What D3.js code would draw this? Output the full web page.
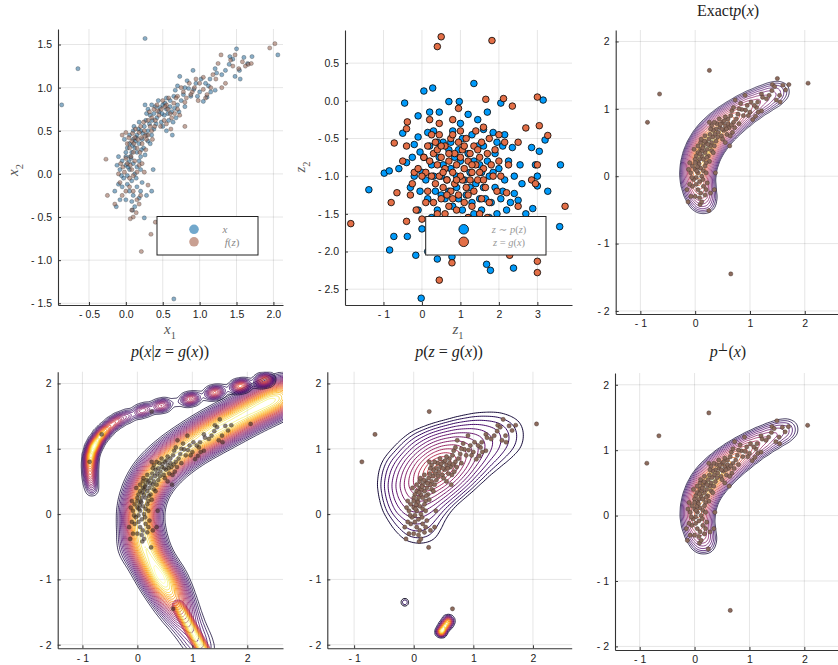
<!DOCTYPE html>
<html>
<head>
<meta charset="utf-8">
<script src="https://cdn.jsdelivr.net/npm/d3@7"></script>
<style>
body { margin: 0; background: #fff; }
</style>
</head>
<body>
<svg id="fig" width="838" height="665"></svg>
<script>
// ---------- data ----------

// samples x (blue in panel 1, brown dots in panels 3-6)
var xPts = [
  [-0.87,0.80],[-0.65,1.22],[0.26,1.57],[0.65,-1.45],[2.06,1.38],[0.35,-0.20],[0.37,0.05],[0.25,-0.51],[0.09,-0.42],[-0.13,-0.38],[0.63,0.45],
  [1.50,1.45],[1.71,1.36],[1.41,1.36],[1.54,1.20],[1.48,1.13],[1.55,1.10],[1.40,1.27],[1.21,1.22],[1.23,1.17],[1.14,1.10],[1.45,1.33],[1.60,1.35],[1.35,1.20],[1.30,1.15],[1.65,1.28],
  [1.21,0.97],[1.05,0.84],[1.10,0.89],[0.91,1.20],[0.73,1.13],[0.85,0.99],[0.67,0.97],[0.95,1.05],[1.00,0.95],[0.88,0.90],[1.02,1.10],[0.80,1.00],[0.92,0.98],[1.12,1.02],[0.78,0.92],[1.08,1.05],[0.70,1.02],[0.97,0.90],[1.15,0.95],[0.83,1.08],
  [0.50,0.80],[0.55,0.75],[0.45,0.72],[0.60,0.85],[0.40,0.78],[0.35,0.80],[0.52,0.68],[0.62,0.72],[0.70,0.80],[0.48,0.60],[0.58,0.62],[0.42,0.65],[0.38,0.70],[0.65,0.90],[0.30,0.75],[0.55,0.88],[0.72,0.72],[0.68,0.65],[0.44,0.85],[0.33,0.68],[0.50,0.55],[0.60,0.78],[0.46,0.77],[0.53,0.82],[0.75,0.85],[0.36,0.62],[0.57,0.70],[0.64,0.60],[0.28,0.70],[0.41,0.58],[0.49,0.70],[0.66,0.76],[0.26,0.80],[0.55,0.50],[0.80,0.78],
  [0.20,0.50],[0.15,0.45],[0.25,0.55],[0.10,0.40],[0.30,0.50],[0.18,0.35],[0.05,0.35],[0.22,0.40],[0.12,0.30],[0.28,0.45],[0.08,0.25],[0.15,0.25],[0.32,0.58],[0.02,0.30],[0.24,0.30],[0.35,0.45],[0.10,0.50],[0.18,0.60],[0.05,0.45],[0.27,0.62],[0.13,0.38],[0.21,0.28],[0.00,0.25],[0.30,0.38],[0.17,0.52],[0.09,0.33],[0.38,0.52],[0.23,0.47],[0.06,0.20],[0.14,0.42],[0.33,0.35],[0.26,0.22],[-0.02,0.40],[0.11,0.55],[0.20,0.20],
  [0.00,0.10],[0.05,0.05],[-0.05,0.15],[0.10,0.12],[0.02,-0.02],[-0.08,0.05],[0.12,0.00],[0.07,0.18],[-0.03,-0.05],[0.15,0.08],[0.04,0.14],[-0.10,0.20],[0.18,0.15],[0.08,-0.08],[0.00,0.20],[0.20,0.05],[-0.12,0.10],[0.14,-0.05],[0.03,0.08],[-0.06,-0.02],
  [0.05,-0.20],[0.10,-0.25],[-0.05,-0.15],[0.15,-0.15],[0.00,-0.30],[-0.10,-0.12],[0.20,-0.20],[0.08,-0.32],[-0.15,-0.20],[0.12,-0.38],[0.02,-0.12],[0.18,-0.28],[0.28,-0.25],[-0.08,-0.30],[0.22,-0.10]
];

// samples f(z) (brown in panel 1)
var fzPts = [
  [1.62,1.25],[1.66,1.27],[1.70,1.28],[1.58,1.30],[1.95,1.46],[2.02,1.51],[1.48,1.38],[1.29,1.38],[1.42,1.32],[1.53,1.22],[1.22,1.10],[1.35,1.05],[1.30,1.00],[1.18,1.15],[1.45,1.25],[1.25,1.28],
  [1.00,1.05],[0.95,1.10],[1.05,0.98],[0.90,0.95],[0.82,0.88],[0.75,1.00],[0.86,1.05],[1.10,0.92],[0.98,0.85],[0.70,0.90],[0.78,0.95],[1.15,1.00],[0.93,1.00],[0.80,0.83],[1.05,1.12],[0.88,0.92],[1.08,0.88],
  [0.55,0.80],[0.48,0.75],[0.60,0.70],[0.42,0.80],[0.65,0.82],[0.38,0.75],[0.52,0.62],[0.70,0.75],[0.45,0.68],[0.58,0.88],[0.32,0.72],[0.62,0.65],[0.50,0.85],[0.40,0.62],[0.68,0.88],[0.35,0.65],[0.55,0.58],[0.47,0.55],[0.73,0.68],[0.80,0.55],[0.61,0.52],[0.53,0.78],[0.43,0.73],[0.66,0.70],[0.30,0.62],[0.57,0.75],[0.39,0.55],
  [0.18,0.48],[0.12,0.42],[0.25,0.50],[0.08,0.38],[0.22,0.35],[0.15,0.30],[0.30,0.45],[0.05,0.30],[0.20,0.55],[0.10,0.25],[0.28,0.40],[0.02,0.35],[0.16,0.40],[0.35,0.50],[0.24,0.60],[-0.05,0.45],[0.00,0.48],[0.13,0.52],[0.27,0.28],[0.07,0.20],[0.19,0.25],[0.33,0.55],[0.11,0.35],[0.26,0.44],[0.04,0.42],[0.36,0.40],[0.21,0.42],[0.09,0.47],
  [0.02,0.12],[0.08,0.05],[-0.04,0.08],[0.12,0.15],[0.05,-0.05],[-0.10,0.00],[0.15,0.02],[0.00,0.18],[0.10,-0.02],[-0.07,0.12],[0.18,0.10],[0.06,0.10],[-0.02,0.02],[-0.27,0.17],[0.22,0.12],[0.25,0.02],
  [0.05,-0.15],[-0.05,-0.25],[0.10,-0.20],[-0.15,-0.35],[0.15,-0.30],[0.00,-0.20],[-0.25,-0.25],[0.08,-0.42],[0.10,-0.50],[0.06,-0.52],[0.20,-0.25],[0.18,-0.35],[0.30,-0.13],[0.40,-0.56],[0.34,-0.70],[0.21,-0.90],[-0.08,-0.10],[0.14,-0.45]
];

// z ~ p(z)
var zpPts = [
  [1.35,0.23],[0.05,0.13],[0.28,0.17],[-0.45,-0.03],[0.70,-0.01],[0.97,-0.01],[2.05,-0.03],[3.15,0.01],[1.70,-0.15],[-1.38,-1.18],[-0.98,-0.96],[-0.85,-0.93],[-0.84,-1.98],[-0.73,-1.80],[-0.38,-1.80],[-0.16,-2.05],[-0.02,-2.62],[0.00,-1.70],[0.40,-2.10],[0.78,-2.07],[1.68,-2.17],[1.78,-2.25],[2.38,-2.22],[3.58,-1.67],[3.60,-0.85],[3.27,-1.20],[3.05,-0.67],[3.20,-0.52],[2.85,-0.62],[3.00,-1.13],[2.88,-1.43],[2.40,-1.23],[2.50,-1.32],[-0.40,-0.82],[-0.50,-0.43],[-0.10,-0.48],[-0.10,-0.20],[-0.05,-0.68],[0.20,-0.15],[0.45,-0.15],[1.20,-0.18],[1.45,-0.25],[2.15,-0.45],[2.55,-0.85],[2.35,-0.62],[2.10,-0.60],[1.85,-0.42],[1.60,-0.38],[-0.60,-0.90],[-0.30,-1.15],[-0.20,-0.58],[2.95,-0.85],[3.00,-1.00],[2.70,-1.50],[2.20,-1.45],[2.30,-1.60],[1.95,-1.50],[1.20,-1.55],[0.60,-1.60],[0.30,-1.75],[-0.10,-1.45],[0.15,-2.00],[1.00,-1.85],[1.45,-1.75],
  [0.30,-0.40],[0.55,-0.55],[0.80,-0.40],[1.05,-0.50],[1.30,-0.45],[1.60,-0.60],[1.90,-0.70],[2.00,-0.90],[1.75,-1.00],[1.50,-0.85],[1.25,-0.95],[1.00,-0.80],[0.75,-0.90],[0.50,-1.00],[0.25,-0.85],[0.10,-1.05],[0.35,-1.20],[0.60,-1.30],[0.90,-1.15],[1.15,-1.25],[1.40,-1.10],[1.65,-1.30],[1.90,-1.15],[2.15,-1.05],[2.25,-0.80],[0.05,-0.75],[0.20,-0.60],[0.45,-0.75],[0.70,-0.65],[0.95,-0.65],[1.20,-0.70],[1.45,-0.60],[1.70,-0.80],[1.95,-0.55],[0.15,-1.30],[0.40,-1.45],[0.80,-1.40],[1.05,-1.45],[1.30,-1.35],[1.55,-1.45],[1.80,-1.35],[2.05,-1.30],[0.65,-1.05],[0.90,-1.00],[1.10,-1.05],[1.35,-0.80],[0.85,-0.75],[0.55,-0.85],[0.30,-1.00],[1.60,-1.15],[1.85,-0.95],[2.10,-1.20],[0.00,-0.95],[-0.20,-1.00],[-0.25,-0.75],[0.40,-0.55],[0.15,-0.42],[1.00,-0.30],[1.15,-1.60],[1.75,-1.55],[2.40,-1.00],[2.60,-1.10],[0.70,-1.20],[0.95,-1.30],[1.25,-1.15],[1.50,-1.30],[0.25,-1.55],[0.50,-1.25],[-0.05,-1.20],[1.35,-1.50],[0.75,-0.55],[1.55,-0.95],[2.30,-1.35]
];

// z = g(x)
var zgPts = [
  [0.40,0.72],[0.50,0.85],[1.82,0.80],[3.00,0.05],[3.05,-0.33],[3.27,-0.46],[2.70,-0.36],[2.35,-0.07],[2.12,0.03],[1.66,0.02],[0.95,-0.10],[-1.85,-1.63],[-0.80,-1.35],[-0.65,-1.22],[-0.72,-0.56],[-0.40,-0.60],[-0.38,-0.28],[-0.40,-0.37],[-0.40,-1.60],[0.45,-2.38],[0.78,-2.15],[2.28,-2.05],[3.00,-2.13],[3.00,-2.28],[3.72,-1.40],[2.85,-1.65],[3.00,-0.85],[2.85,-1.05],[2.95,-1.10],[-0.50,-0.80],[0.00,-1.57],[-0.15,-1.45],[0.45,-0.30],[0.20,-0.25],[0.80,-0.25],[1.60,-0.35],[2.50,-0.55],[2.20,-1.22],[2.50,-1.40],[-0.30,-1.25],[-0.20,-0.95],[0.10,-1.35],
  [0.20,-0.80],[0.30,-0.70],[0.40,-0.85],[0.50,-0.75],[0.60,-0.90],[0.70,-0.80],[0.80,-0.95],[0.90,-0.85],[1.00,-0.75],[1.10,-0.90],[1.20,-0.80],[1.30,-0.95],[1.40,-0.85],[1.50,-0.75],[1.60,-0.90],[1.70,-0.70],[1.80,-0.85],[1.90,-0.65],[2.00,-0.80],[0.25,-1.00],[0.35,-1.10],[0.45,-1.00],[0.55,-1.15],[0.65,-1.05],[0.75,-1.20],[0.85,-1.10],[0.95,-1.25],[1.05,-1.05],[1.15,-1.15],[1.25,-1.05],[1.35,-1.20],[1.45,-1.05],[1.55,-1.30],[1.65,-1.15],[1.75,-1.35],[0.10,-0.95],[0.00,-1.00],[-0.10,-0.90],[0.05,-0.75],[0.15,-1.20],[0.60,-0.60],[0.75,-0.50],[0.95,-0.55],[1.15,-0.50],[1.35,-0.60],[1.55,-0.55],[0.35,-0.55],[0.85,-0.70],[1.05,-0.65],[1.25,-0.70],[1.45,-0.65],[0.50,-1.30],[0.70,-1.40],[0.90,-1.45],[1.10,-1.35],[1.30,-1.40],[1.50,-1.50],[0.30,-1.35],[0.40,-1.50],[0.65,-1.25],[1.00,-1.00],[1.20,-1.25],[0.80,-1.30],[0.55,-0.95],[1.60,-1.05],[1.85,-1.00],[2.05,-1.00],[2.15,-0.55],[2.25,-0.85],[0.15,-0.60],[0.45,-0.45],[1.75,-0.50],[2.00,-0.45],[1.95,-1.20],[1.40,-0.40],[0.95,-1.60],[1.20,-1.55],[0.60,-1.50],[0.25,-0.45],[0.80,-0.45],[1.00,-0.40],[1.70,-1.55],[-0.25,-1.10],[0.40,-0.65],[0.70,-0.70],[0.90,-1.05],[1.10,-0.60],[1.30,-0.85],[1.50,-0.95],[0.50,-0.60]
];

// density ridges [x, y, weight]
var exactRidge = [
  [0.15,-0.38,0.35],[0.08,-0.22,0.55],[0.04,-0.05,0.75],[0.05,0.12,0.9],[0.10,0.28,1.0],[0.18,0.42,1.0],[0.28,0.55,0.95],[0.40,0.66,0.85],
  [0.54,0.77,0.75],[0.70,0.87,0.62],[0.87,0.97,0.5],[1.05,1.06,0.4],[1.24,1.14,0.3],[1.42,1.21,0.22],[1.58,1.27,0.15]
];
var perpRidge = [
  [0.17,-0.42,0.3],[0.10,-0.27,0.45],[0.05,-0.10,0.6],[0.05,0.07,0.75],[0.09,0.24,0.88],[0.17,0.39,0.97],[0.27,0.52,1.0],[0.39,0.63,1.0],
  [0.53,0.74,0.92],[0.69,0.85,0.8],[0.86,0.95,0.66],[1.04,1.05,0.52],[1.23,1.14,0.4],[1.42,1.22,0.3],[1.60,1.29,0.22],[1.76,1.33,0.14]
];
var condBand = [
  [1.22,-2.15,0.25],[1.12,-2.00,0.25],[1.02,-1.85,0.27],[0.92,-1.70,0.3],[0.82,-1.55,0.4],[0.72,-1.40,0.6],[0.62,-1.25,0.85],
  [0.50,-1.08,1.0],[0.38,-0.92,1.0],[0.27,-0.76,1.0],[0.18,-0.58,1.0],[0.11,-0.40,0.95],[0.06,-0.22,0.9],[0.04,-0.04,0.9],
  [0.06,0.14,0.9],[0.12,0.32,0.9],[0.21,0.48,0.9],[0.33,0.62,0.9],[0.47,0.74,0.9],[0.63,0.86,0.9],[0.80,0.97,0.9],[0.98,1.07,0.9],
  [1.17,1.17,0.95],[1.36,1.26,1.0],[1.56,1.35,1.0],[1.76,1.44,1.0],[1.96,1.53,1.0],[2.16,1.62,1.0],[2.36,1.70,1.0],[2.56,1.78,1.0],[2.76,1.86,1.0],
  [-0.22,-0.55,0.2],[0.62,-0.98,0.2]
];
var condTail = [[0.74,-1.40,0.8],[0.82,-1.52,1],[0.90,-1.64,1],[0.98,-1.76,1],[1.06,-1.88,1],[1.14,-2.00,1],[1.22,-2.12,1]];
var condArc = [
  [-0.83,0.38,0.25],[-0.85,0.50,0.45],[-0.86,0.62,0.65],[-0.86,0.75,0.85],[-0.85,0.88,1.0],[-0.81,1.00,1.0],[-0.75,1.10,0.95],
  [-0.67,1.20,0.85],[-0.58,1.28,0.7],[-0.48,1.36,0.55],[-0.38,1.42,0.4],
  [-0.30,1.46,0.3],[-0.18,1.50,0.3],[-0.06,1.53,0.1],[0.04,1.57,0.35],[0.16,1.60,0.35],[0.27,1.62,0.1],[0.38,1.65,0.4],[0.50,1.67,0.4],
  [0.70,1.71,0.1],[0.90,1.75,0.45],[1.02,1.77,0.45],[1.18,1.81,0.1],[1.35,1.85,0.5],[1.47,1.87,0.5],[1.64,1.91,0.1],
  [1.81,1.95,0.55],[1.93,1.97,0.55],[2.08,2.00,0.1],[2.25,2.04,0.55],[2.37,2.06,0.55]
];
var zgBlob = [
  [0.10,-0.15,0.3],[-0.05,0.25,0.5],[0.12,0.45,0.75],[0.30,0.62,0.95],[0.48,0.75,1.0],[0.68,0.88,0.8],[0.92,1.02,0.5],[1.20,1.12,0.3],
  [1.50,1.20,0.15],[1.68,1.24,0.08],[-0.22,0.62,0.25],[0.15,0.98,0.2]
];
var zgDiamond = [[-0.15,-1.35,1]];
var zgPatch = [[0.46,-1.80,1],[0.52,-1.72,1],[0.58,-1.64,1]];

// ticks
var p1XTicks = [-0.5, 0, 0.5, 1, 1.5, 2];
var p1XLabels = ["- 0.5", "0.0", "0.5", "1.0", "1.5", "2.0"];
var p1YTicks = [-1.5, -1, -0.5, 0, 0.5, 1, 1.5];
var p1YLabels = ["- 1.5", "- 1.0", "- 0.5", "0.0", "0.5", "1.0", "1.5"];
var p2XTicks = [-1, 0, 1, 2, 3];
var p2XLabels = ["- 1", "0", "1", "2", "3"];
var p2YTicks = [-2.5, -2, -1.5, -1, -0.5, 0, 0.5];
var p2YLabels = ["- 2.5", "- 2.0", "- 1.5", "- 1.0", "- 0.5", "0.0", "0.5"];
var cXTicks = [-1, 0, 1, 2];
var cXLabels = ["- 1", "0", "1", "2"];
var cYTicks = [-2, -1, 0, 1, 2];
var cYLabels = ["- 2", "- 1", "0", "1", "2"];

// ---------- drawing ----------
var svg = d3.select("#fig");
var serif = "'Liberation Serif','DejaVu Serif',serif";
var sans = "'Liberation Sans',Arial,sans-serif";
var geo = d3.geoPath();

function makePanel(id, c) {
  var x = d3.scaleLinear().domain(c.dx).range([c.l, c.r]);
  var y = d3.scaleLinear().domain(c.dy).range([c.b, c.t]);
  svg.append("clipPath").attr("id", "clip-" + id).append("rect")
    .attr("x", c.l).attr("y", c.t).attr("width", c.r - c.l).attr("height", c.b - c.t);
  var grid = svg.append("g");
  var body = svg.append("g").attr("clip-path", "url(#clip-" + id + ")");
  var axes = svg.append("g");
  return {x: x, y: y, c: c, grid: grid, body: body, axes: axes};
}

function drawAxes(p, xt, xl, yt, yl) {
  var c = p.c;
  p.grid.selectAll(".gx").data(xt).join("line")
    .attr("x1", function(d) { return p.x(d); }).attr("x2", function(d) { return p.x(d); })
    .attr("y1", c.t).attr("y2", c.b)
    .attr("stroke", "#000").attr("stroke-opacity", 0.1).attr("stroke-width", 1);
  p.grid.selectAll(".gy").data(yt).join("line")
    .attr("y1", function(d) { return p.y(d); }).attr("y2", function(d) { return p.y(d); })
    .attr("x1", c.l).attr("x2", c.r)
    .attr("stroke", "#000").attr("stroke-opacity", 0.1).attr("stroke-width", 1);

  var ax = p.axes.append("g").attr("transform", "translate(0," + c.b + ")")
    .call(d3.axisBottom(p.x).tickValues(xt).tickFormat(function(d, i) { return xl[i]; })
      .tickSizeInner(-3).tickSizeOuter(0).tickPadding(6));
  var ay = p.axes.append("g").attr("transform", "translate(" + c.l + ",0)")
    .call(d3.axisLeft(p.y).tickValues(yt).tickFormat(function(d, i) { return yl[i]; })
      .tickSizeInner(-3).tickSizeOuter(0).tickPadding(6));
  [ax, ay].forEach(function(a) {
    a.select(".domain").attr("stroke", "#333").attr("stroke-width", 1.1);
    a.selectAll(".tick line").attr("stroke", "#333");
    a.selectAll(".tick text").attr("font-family", sans).attr("font-size", "10.5px").attr("fill", "#222");
  });
}

function mathText(g, x, y, parts, size, color, anchor) {
  var t = g.append("text").attr("x", x).attr("y", y)
    .attr("text-anchor", anchor || "middle").attr("font-family", serif)
    .attr("font-size", size).attr("fill", color);
  var shift = 0;
  parts.forEach(function(pt) {
    var s = t.append("tspan").text(pt[0]);
    var want = 0;
    if (pt[1].indexOf("i") >= 0) s.attr("font-style", "italic");
    if (pt[1].indexOf("sub") >= 0) { s.attr("font-size", size * 0.7); want = size * 0.3; }
    if (pt[1].indexOf("sup") >= 0) { s.attr("font-size", size * 0.7); want = -size * 0.4; }
    if (want !== shift) { s.attr("dy", want - shift); shift = want; }
  });
  return t;
}

function densityLevels(p, pts, bw, cell) {
  var pad = 40, c = p.c;
  var dens = d3.contourDensity()
    .x(function(d) { return p.x(d[0]) - c.l + pad; })
    .y(function(d) { return p.y(d[1]) - c.t + pad; })
    .weight(function(d) { return d.length > 2 ? d[2] : 1; })
    .size([c.r - c.l + 2 * pad, c.b - c.t + 2 * pad])
    .cellSize(cell).bandwidth(bw);
  var res = {pad: pad};
  if (dens.contours) {
    var cf = dens.contours(pts);
    res.max = cf.max;
    res.at = function(v) { return cf(v); };
  } else {
    var all = dens.thresholds(300)(pts).filter(function(g) { return g.coordinates.length; });
    res.max = all[all.length - 1].value;
    res.at = function(v) { return dens.thresholds([v])(pts)[0]; };
  }
  return res;
}

function drawContours(p, pts, bw, cell, fracs, tcol, width) {
  var d = densityLevels(p, pts, bw, cell);
  var g = p.body.append("g").attr("transform", "translate(" + (p.c.l - d.pad) + "," + (p.c.t - d.pad) + ")");
  g.selectAll("path").data(fracs).join("path")
    .attr("d", function(f) { return geo(d.at(f * d.max)); })
    .attr("fill", "none")
    .attr("stroke", function(f, i) { return d3.interpolateInferno(tcol[i]); })
    .attr("stroke-width", width)
    .attr("stroke-linejoin", "round");
}

// contour level helpers
function levels(n) { return d3.range(n).map(function(i) { return (i + 1) / (n + 1); }); }
function span(n, lo, hi) { return d3.range(n).map(function(i) { return lo + (hi - lo) * i / (n - 1); }); }
function ringLevels(n, k) { return d3.range(n).map(function(i) { var s = 1 - (i + 1) / (n + 1); return Math.exp(-k * s * s); }); }

function dots(p, pts, r, fill, fo, stroke, so, sw) {
  p.body.append("g").selectAll("circle").data(pts).join("circle")
    .attr("cx", function(d) { return p.x(d[0]); })
    .attr("cy", function(d) { return p.y(d[1]); })
    .attr("r", r).attr("fill", fill).attr("fill-opacity", fo)
    .attr("stroke", stroke).attr("stroke-opacity", so).attr("stroke-width", sw);
}

// ---- panel 1: x and f(z)
var P1 = makePanel("p1", {l: 58, r: 283, t: 29, b: 305, dx: [-0.92, 2.13], dy: [-1.52, 1.68]});
drawAxes(P1, p1XTicks, p1XLabels, p1YTicks, p1YLabels);
dots(P1, xPts, 2.1, "#3a76a0", 0.6, "#000", 0.45, 0.5);
dots(P1, fzPts, 2.1, "#9a6a5a", 0.6, "#000", 0.45, 0.5);
mathText(svg, 170, 334, [["x", "i"], ["1", "sub"]], 15, "#555");
mathText(svg.append("g").attr("transform", "translate(18,170) rotate(-90)"), 0, 0, [["x", "i"], ["2", "sub"]], 15, "#555");
var lg1 = svg.append("g");
lg1.append("rect").attr("x", 157).attr("y", 216.5).attr("width", 101).attr("height", 38.5)
  .attr("fill", "#fff").attr("stroke", "#222").attr("stroke-width", 1);
lg1.append("circle").attr("cx", 194).attr("cy", 229.3).attr("r", 4.8).attr("fill", "#72a8cc");
lg1.append("circle").attr("cx", 194).attr("cy", 241.8).attr("r", 4.8).attr("fill", "#c9a092");
mathText(lg1, 225, 233, [["x", "i"]], 11, "#888");
mathText(lg1, 232, 245.5, [["f", "i"], ["(", ""], ["z", "i"], [")", ""]], 11, "#888");

// ---- panel 2: latent samples
var P2 = makePanel("p2", {l: 345, r: 572, t: 30, b: 305, dx: [-2.0, 3.9], dy: [-2.71, 0.94]});
drawAxes(P2, p2XTicks, p2XLabels, p2YTicks, p2YLabels);
dots(P2, zpPts, 3.3, "#009AFA", 1, "#000", 1, 0.8);
dots(P2, zgPts, 3.3, "#E36F47", 1, "#000", 1, 0.8);
mathText(svg, 458, 334, [["z", "i"], ["1", "sub"]], 15, "#555");
mathText(svg.append("g").attr("transform", "translate(305,167) rotate(-90)"), 0, 0, [["z", "i"], ["2", "sub"]], 15, "#555");
var lg2 = svg.append("g");
lg2.append("rect").attr("x", 425.7).attr("y", 216.5).attr("width", 120.3).attr("height", 38.5)
  .attr("fill", "#fff").attr("stroke", "#222").attr("stroke-width", 1);
lg2.append("circle").attr("cx", 463.7).attr("cy", 229.3).attr("r", 4.8).attr("fill", "#009AFA").attr("stroke", "#000").attr("stroke-width", 0.8);
lg2.append("circle").attr("cx", 463.7).attr("cy", 241.8).attr("r", 4.8).attr("fill", "#E36F47").attr("stroke", "#000").attr("stroke-width", 0.8);
mathText(lg2, 509, 233, [["z", "i"], [" ∼ ", ""], ["p", "i"], ["(", ""], ["z", "i"], [")", ""]], 10.5, "#999");
mathText(lg2, 509, 245.5, [["z", "i"], [" = ", ""], ["g", "i"], ["(", ""], ["x", "i"], [")", ""]], 10.5, "#999");

// ---- panel 3: exact p(x)
var P3 = makePanel("p3", {l: 615.7, r: 840.4, t: 30, b: 314, dx: [-1.45, 2.65], dy: [-2.045, 2.17]});
drawAxes(P3, cXTicks, cXLabels, cYTicks, cYLabels);
drawContours(P3, exactRidge, 8, 1, ringLevels(18, 3.0), span(18, 0.1, 1), 0.8);
dots(P3, xPts, 2.1, "#8c6b5d", 1, "#3d2b25", 0.8, 0.5);
mathText(svg, 728, 16, [["Exact", ""], ["p", "i"], ["(", ""], ["x", "i"], [")", ""]], 16, "#222");

// ---- panel 4: p(x | z = g(x))
var P4 = makePanel("p4", {l: 57.7, r: 283, t: 371.7, b: 648.3, dx: [-1.45, 2.65], dy: [-2.055, 2.18]});
drawAxes(P4, cXTicks, cXLabels, cYTicks, cYLabels);
drawContours(P4, condBand, 11, 2, span(24, 0.12, 0.97), span(24, 0.1, 1), 0.8);
drawContours(P4, condTail, 4.5, 1, span(10, 0.3, 0.95), span(10, 0.45, 1), 0.8);
drawContours(P4, condArc, 3.6, 1, levels(22), span(22, 0.1, 1), 0.8);
dots(P4, xPts, 2.1, "#3b2a22", 0.6, "#1a1a1a", 0.5, 0.4);
mathText(svg, 170, 357, [["p", "i"], ["(", ""], ["x", "i"], ["|", ""], ["z", "i"], [" = ", ""], ["g", "i"], ["(", ""], ["x", "i"], ["))", ""]], 16, "#222");

// ---- panel 5: p(z = g(x))
var P5 = makePanel("p5", {l: 327.3, r: 571.7, t: 371.7, b: 648.3, dx: [-1.45, 2.65], dy: [-2.055, 2.18]});
drawAxes(P5, cXTicks, cXLabels, cYTicks, cYLabels);
drawContours(P5, zgBlob, 16, 2, ringLevels(14, 3.2), span(14, 0.1, 0.6), 1);
drawContours(P5, zgDiamond, 2, 1, [0.25, 0.6], [0.05, 0.15], 1);
drawContours(P5, zgPatch, 2.5, 2, levels(14), span(14, 0.1, 1), 0.9);
dots(P5, xPts, 2.1, "#8c6b5d", 1, "#3d2b25", 0.8, 0.5);
mathText(svg, 449, 357, [["p", "i"], ["(", ""], ["z", "i"], [" = ", ""], ["g", "i"], ["(", ""], ["x", "i"], ["))", ""]], 16, "#222");

// ---- panel 6: p-perp(x)
var P6 = makePanel("p6", {l: 615, r: 840, t: 373, b: 650, dx: [-1.45, 2.65], dy: [-2.055, 2.18]});
drawAxes(P6, cXTicks, cXLabels, cYTicks, cYLabels);
drawContours(P6, perpRidge, 8, 1, ringLevels(18, 3.0), span(18, 0.1, 1), 0.8);
dots(P6, xPts, 2.1, "#8c6b5d", 1, "#3d2b25", 0.8, 0.5);
mathText(svg, 728, 357, [["p", "i"], ["⊥", "sup"], ["(", ""], ["x", "i"], [")", ""]], 16, "#222");
</script>
</body>
</html>
